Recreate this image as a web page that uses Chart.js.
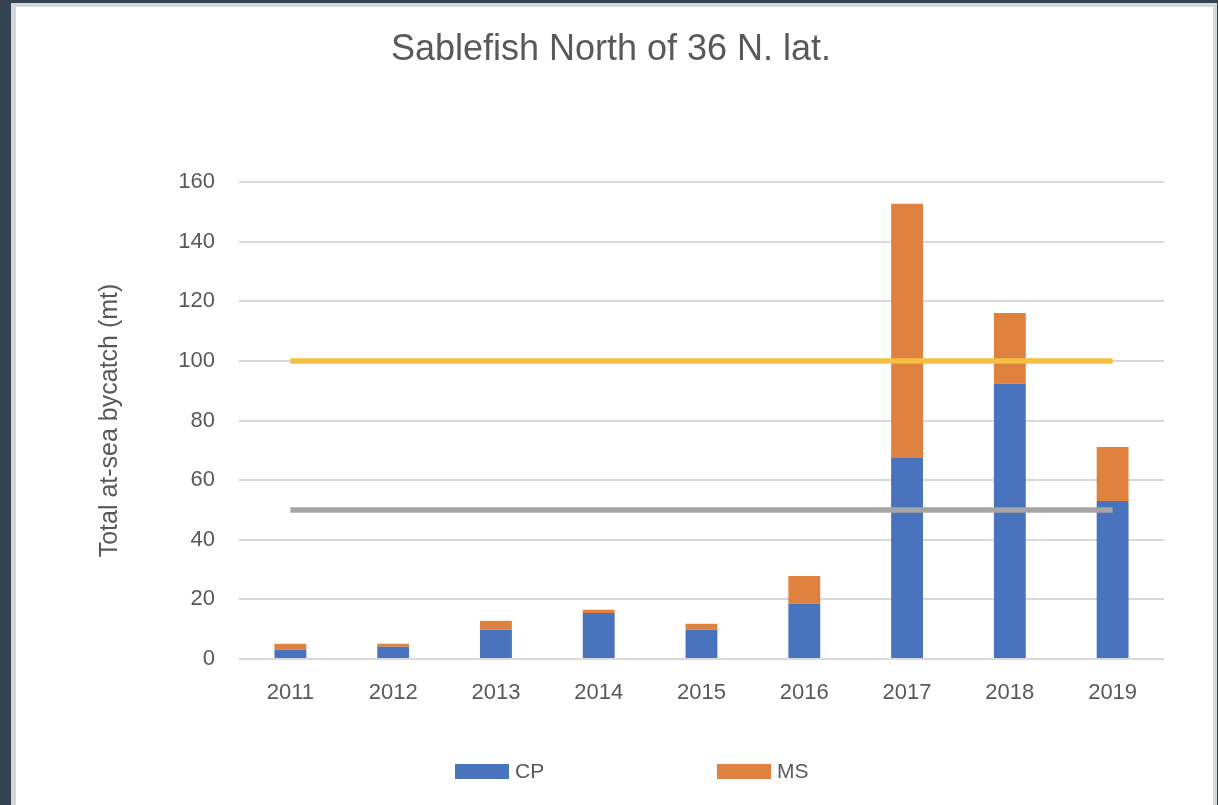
<!DOCTYPE html>
<html>
<head>
<meta charset="utf-8">
<script src="https://cdn.jsdelivr.net/npm/chart.js@4.4.1/dist/chart.umd.min.js"></script>
<style>
  html, body { margin: 0; padding: 0; background: #32444F; }
  #wrap { position: absolute; left: 0; top: 0; width: 1218px; height: 805px; }
  canvas { display: block; }
</style>
</head>
<body>
<div id="wrap"><canvas id="c" width="1218" height="805"></canvas></div>
<script>
// ---- data ----
const years = ['2011', '2012', '2013', '2014', '2015', '2016', '2017', '2018', '2019'];
const cpValues = [3.1, 4.1, 9.8, 15.4, 9.8, 18.5, 67.4, 92.3, 53.0];
const msValues = [2.0, 1.0, 3.0, 1.1, 2.0, 9.3, 85.3, 23.8, 18.1];
const upperLine = [100, 100, 100, 100, 100, 100, 100, 100, 100];
const lowerLine = [50, 50, 50, 50, 50, 50, 50, 50, 50];
const yTicks = [0, 20, 40, 60, 80, 100, 120, 140, 160];

const TEXT = '#595959';
const FONT = "'Liberation Sans', Arial, sans-serif";

const framePlugin = {
  id: 'frame',
  beforeDraw(chart) {
    const ctx = chart.ctx;
    ctx.save();
    ctx.fillStyle = '#32444F';
    ctx.fillRect(0, 0, chart.width, chart.height);
    ctx.fillStyle = '#D6D6D6';
    ctx.fillRect(11, 3, 1206, 802);
    ctx.fillStyle = '#FFFFFF';
    ctx.fillRect(16, 7, 1197, 798);
    ctx.restore();
  }
};

const legendPlugin = {
  id: 'customLegend',
  afterDraw(chart) {
    const ctx = chart.ctx;
    const items = [
      { ds: chart.data.datasets[0], x: 455 },
      { ds: chart.data.datasets[1], x: 717 }
    ];
    ctx.save();
    ctx.font = '21px ' + FONT;
    ctx.textBaseline = 'middle';
    ctx.textAlign = 'left';
    items.forEach(it => {
      ctx.fillStyle = it.ds.backgroundColor;
      ctx.fillRect(it.x, 764, 54, 15);
      ctx.fillStyle = TEXT;
      ctx.fillText(it.ds.label, it.x + 60, 772);
    });
    ctx.restore();
  }
};

new Chart(document.getElementById('c'), {
  data: {
    labels: years,
    datasets: [
      { type: 'bar', label: 'CP', data: cpValues, backgroundColor: '#4A73BE', order: 2,
        barPercentage: 0.31, categoryPercentage: 1.0 },
      { type: 'bar', label: 'MS', data: msValues, backgroundColor: '#E0823F', order: 2,
        barPercentage: 0.31, categoryPercentage: 1.0 },
      { type: 'line', label: 'Upper', data: upperLine, borderColor: '#F5BF42', backgroundColor: '#F5BF42',
        borderWidth: 5.5, pointRadius: 0, borderCapStyle: 'butt', stack: 'u', order: 0 },
      { type: 'line', label: 'Lower', data: lowerLine, borderColor: '#A5A5A5', backgroundColor: '#A5A5A5',
        borderWidth: 5.5, pointRadius: 0, borderCapStyle: 'butt', stack: 'l', order: 0 }
    ]
  },
  options: {
    responsive: false,
    animation: false,
    devicePixelRatio: 1,
    layout: { padding: { left: 16, top: 7, right: 12, bottom: 0 } },
    plugins: {
      legend: { display: false },
      tooltip: { enabled: false },
      title: {
        display: true,
        text: 'Sablefish North of 36 N. lat.',
        color: TEXT,
        font: { family: FONT, size: 36, weight: 'normal', lineHeight: 1.2 },
        padding: { top: 21, bottom: 110.8 }
      }
    },
    scales: {
      x: {
        stacked: true,
        grid: { display: false, drawTicks: false },
        border: { display: false },
        ticks: { color: TEXT, font: { family: FONT, size: 22 }, padding: 21, maxRotation: 0 },
        afterFit(scale) { scale.height = 146; }
      },
      y: {
        stacked: true,
        min: 0, max: 160,
        afterBuildTicks(scale) { scale.ticks = yTicks.map(v => ({ value: v })); },
        grid: { color: '#D9D9D9', lineWidth: 2, drawTicks: false },
        border: { display: false },
        ticks: { color: TEXT, font: { family: FONT, size: 22 }, padding: 24 },
        title: {
          display: true,
          text: 'Total at-sea bycatch (mt)',
          color: TEXT,
          font: { family: FONT, size: 25 },
          padding: { top: 79, bottom: 0 }
        },
        afterFit(scale) { scale.width = 223; }
      },
      yRight: {
        position: 'right',
        min: 0, max: 160,
        grid: { display: false, drawTicks: false },
        border: { display: false },
        ticks: { display: false },
        afterFit(scale) { scale.width = 42; }
      }
    }
  },
  plugins: [framePlugin, legendPlugin]
});
</script>
</body>
</html>
